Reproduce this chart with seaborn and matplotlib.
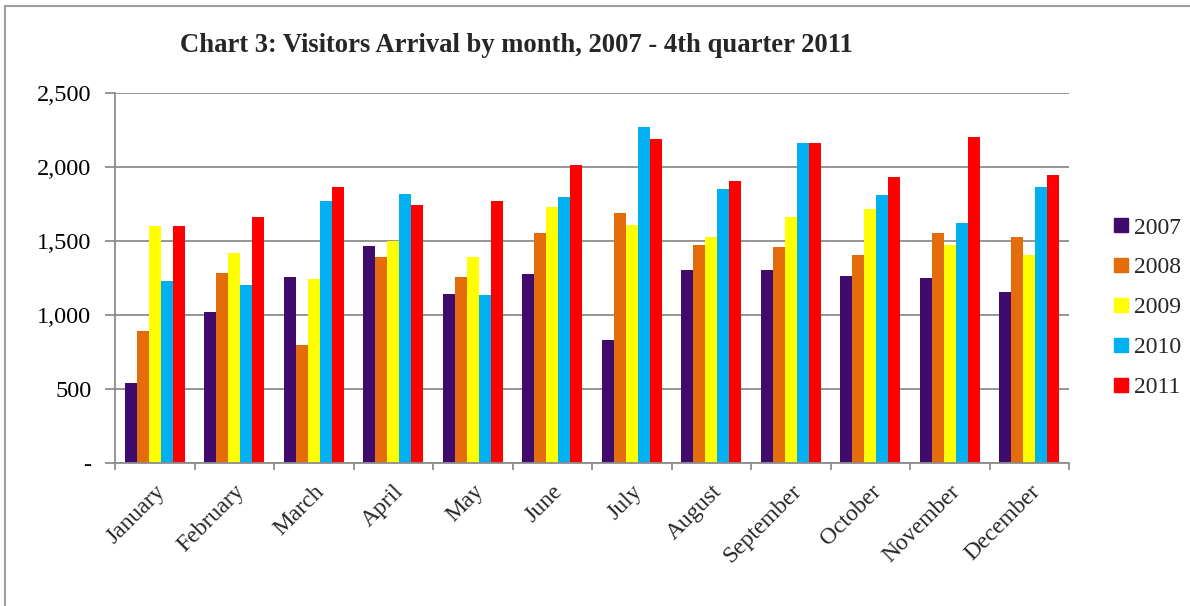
import pandas as pd
import matplotlib
matplotlib.use("Agg")
import matplotlib.pyplot as plt
from matplotlib.ticker import FuncFormatter, FixedLocator
from matplotlib.lines import Line2D
import seaborn as sns

# data
months = ["January", "February", "March", "April", "May", "June", "July",
          "August", "September", "October", "November", "December"]
years = ["2007", "2008", "2009", "2010", "2011"]
v2007 = [545, 1018, 1259, 1464, 1140, 1275, 829, 1302, 1302, 1261, 1248, 1153]
v2008 = [892, 1282, 797, 1390, 1255, 1552, 1687, 1471, 1457, 1403, 1552, 1525]
v2009 = [1604, 1417, 1241, 1498, 1390, 1728, 1606, 1525, 1660, 1714, 1471, 1403]
v2010 = [1228, 1201, 1768, 1820, 1133, 1795, 2266, 1849, 2160, 1809, 1620, 1863]
v2011 = [1604, 1660, 1861, 1741, 1768, 2011, 2185, 1903, 2160, 1930, 2198, 1944]
colors = ["#3F0C6E", "#E46C0A", "#FFFF00", "#00B0F0", "#FF0000"]

series = [v2007, v2008, v2009, v2010, v2011]
rows = []
for y, vals in zip(years, series):
    for m, v in zip(months, vals):
        rows.append({"Month": m, "Year": y, "Visitors": v})
df = pd.DataFrame(rows)

sns.set_style("white")
plt.rcParams['font.family'] = ['Liberation Serif', 'DejaVu Serif']

fig = plt.figure(figsize=(11.9, 6.06), dpi=100)
ax = fig.add_axes([115/1190, 1-463.3/606, (1069-115)/1190, (463.3-92.7)/606])

sns.barplot(data=df, x="Month", y="Visitors", hue="Year", order=months,
            hue_order=years, palette=colors, saturation=1, width=0.76,
            ax=ax, errorbar=None, linewidth=0)

grid_c = "#8C8C8C"
ax.set_ylim(0, 2500)
ax.set_xlim(-0.5, 11.5)
ax.yaxis.set_major_locator(FixedLocator([0, 500, 1000, 1500, 2000, 2500]))
ax.yaxis.set_major_formatter(FuncFormatter(lambda v, p: "-" if v == 0 else f"{int(v):,}"))
ax.yaxis.grid(True, color=grid_c, linewidth=1.3)
ax.set_axisbelow(True)
for s in ["top", "right"]:
    ax.spines[s].set_visible(False)
for s in ["left", "bottom"]:
    ax.spines[s].set_color(grid_c)
    ax.spines[s].set_linewidth(1.3)

ax.set_xlabel("")
ax.set_ylabel("")
ax.tick_params(axis="y", left=True, length=7, width=1.3, color=grid_c,
               labelsize=17.5, pad=10, labelcolor="black")
# category ticks: boundaries get tick marks, labels sit at centers
ax.set_xticks(range(12))
ax.set_xticklabels(months, rotation=45, ha="right", rotation_mode="anchor", fontsize=17)
ax.tick_params(axis="x", which="major", bottom=False, pad=9)
ax.set_xticks([i - 0.5 for i in range(13)], minor=True)
ax.tick_params(axis="x", which="minor", bottom=True, length=5, width=1.3, color=grid_c)

handles = [Line2D([], [], marker="s", linestyle="", markersize=10,
                  markerfacecolor=c, markeredgecolor=c) for c in colors]
ax.legend(handles, years, loc="center left", bbox_to_anchor=(1.037, 0.42),
          frameon=False, fontsize=17, handlelength=0.6, handletextpad=0.25,
          labelspacing=0.78, borderaxespad=0)

fig.text(516/1190, 1-45/606, "Chart 3: Visitors Arrival by month, 2007 - 4th quarter 2011",
         ha="center", va="center", fontsize=19.2, fontweight="bold")

# outer chart border (top and left visible)
fig.add_artist(Line2D([5/1190, 5/1190], [0, 1-6/606], color="#A0A0A0", linewidth=1.5))
fig.add_artist(Line2D([5/1190, 1], [1-6/606, 1-6/606], color="#A0A0A0", linewidth=1.5))

fig.savefig("out.png", dpi=100)
